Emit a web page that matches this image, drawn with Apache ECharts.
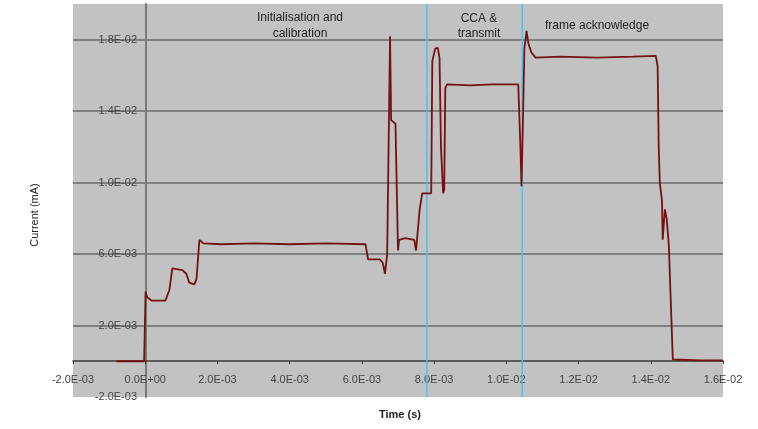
<!DOCTYPE html>
<html>
<head>
<meta charset="utf-8">
<script src="https://cdn.jsdelivr.net/npm/echarts@6/dist/echarts.min.js"></script>
<style>
  html, body { margin: 0; padding: 0; background: #fff; }
  #chart { width: 758px; height: 429px; }
</style>
</head>
<body>
<div id="chart"></div>
<script>
// time (s) and current readings
const timeS = [
  -0.8e-3, -0.03e-3, 0.01e-3, 0.05e-3, 0.17e-3, 0.56e-3, 0.67e-3, 0.75e-3, 1.03e-3, 1.14e-3,
  1.22e-3, 1.36e-3, 1.42e-3, 1.5e-3, 1.61e-3, 2.1e-3, 3.0e-3, 4.0e-3, 5.0e-3, 6.1e-3,
  6.17e-3, 6.5e-3, 6.58e-3, 6.64e-3, 6.7e-3, 6.78e-3, 6.81e-3, 6.93e-3, 7.0e-3, 7.03e-3,
  7.2e-3, 7.45e-3, 7.5e-3, 7.6e-3, 7.67e-3, 7.92e-3, 7.95e-3, 8.03e-3, 8.1e-3, 8.15e-3,
  8.19e-3, 8.25e-3, 8.28e-3, 8.31e-3, 8.36e-3, 9.0e-3, 9.6e-3, 10.33e-3, 10.39e-3, 10.42e-3,
  10.45e-3, 10.5e-3, 10.56e-3, 10.61e-3, 10.69e-3, 10.81e-3, 11.5e-3, 12.5e-3, 13.5e-3, 14.14e-3,
  14.19e-3, 14.22e-3, 14.25e-3, 14.31e-3, 14.33e-3, 14.39e-3, 14.44e-3, 14.5e-3, 14.56e-3, 14.61e-3,
  15.4e-3, 16.0e-3
];
const currentA = [
  0, 0, 3.9e-3, 3.6e-3, 3.4e-3, 3.4e-3, 4.0e-3, 5.2e-3, 5.1e-3, 4.9e-3,
  4.4e-3, 4.3e-3, 4.6e-3, 6.8e-3, 6.6e-3, 6.55e-3, 6.6e-3, 6.55e-3, 6.6e-3, 6.55e-3,
  5.7e-3, 5.7e-3, 5.5e-3, 4.9e-3, 6.0e-3, 18.2e-3, 13.5e-3, 13.3e-3, 6.2e-3, 6.8e-3,
  6.9e-3, 6.8e-3, 6.2e-3, 8.5e-3, 9.4e-3, 9.4e-3, 16.8e-3, 17.5e-3, 17.55e-3, 17.0e-3,
  12.0e-3, 9.4e-3, 9.6e-3, 15.3e-3, 15.5e-3, 15.45e-3, 15.5e-3, 15.5e-3, 12.0e-3, 9.8e-3,
  12.5e-3, 17.5e-3, 18.5e-3, 17.8e-3, 17.3e-3, 17.0e-3, 17.05e-3, 17.0e-3, 17.05e-3, 17.1e-3,
  16.5e-3, 12.0e-3, 10.0e-3, 9.0e-3, 6.8e-3, 8.5e-3, 8.0e-3, 6.5e-3, 3.0e-3, 0.1e-3,
  0.05e-3, 0.05e-3
];
// phase boundaries (s) and the phase captions
const phaseMarks = [7.8e-3, 10.44e-3];
const phaseNames = ['Initialisation and\ncalibration', 'CCA &\ntransmit', 'frame acknowledge'];

const X_MIN = -0.002, X_MAX = 0.016, Y_MIN = -0.002, Y_MAX = 0.02;

function sci(v) {
  if (v === 0) return '0.0E+00';
  let e = Math.floor(Math.log10(Math.abs(v)) + 1e-9);
  let m = v / Math.pow(10, e);
  return m.toFixed(1) + 'E' + (e < 0 ? '-' : '+') + String(Math.abs(e)).padStart(2, '0');
}

const chart = echarts.init(document.getElementById('chart'));
const font = 'Liberation Sans, Arial, sans-serif';

const phaseSeries = phaseMarks.map(t => ({
  type: 'line',
  data: [[t, Y_MIN], [t, Y_MAX]],
  showSymbol: false,
  silent: true,
  lineStyle: { color: '#55bfe0', width: 1.5 },
  z: 2
}));

chart.setOption({
  animation: false,
  grid: {
    left: 73, right: 35, top: 4, bottom: 32,
    show: true, backgroundColor: '#c2c2c2', borderWidth: 0
  },
  xAxis: {
    type: 'value',
    min: X_MIN, max: X_MAX, interval: 0.002,
    offset: -36,
    axisLine: { onZero: false, lineStyle: { color: '#3a3a3a', width: 1.5 } },
    axisTick: { show: true, length: 3, lineStyle: { color: '#3a3a3a' } },
    axisLabel: { formatter: sci, color: '#444', fontSize: 11, fontFamily: font, margin: 13 },
    splitLine: { show: false }
  },
  yAxis: {
    type: 'value',
    min: Y_MIN, max: Y_MAX, interval: 0.004,
    offset: -73,
    axisLine: { show: true, onZero: false, lineStyle: { color: '#7a7a7a', width: 2 } },
    axisTick: { show: false },
    axisLabel: { formatter: sci, color: '#444', fontSize: 11, fontFamily: font, margin: 9, showMaxLabel: false },
    splitLine: { showMinLine: false, showMaxLine: false, lineStyle: { color: '#6a6a6a', width: 1.5 } }
  },
  graphic: [
    { type: 'text', x: 300, y: 26, style: { text: phaseNames[0], align: 'center', verticalAlign: 'middle', fill: '#222', font: '12px ' + font, lineHeight: 16 } },
    { type: 'text', x: 479, y: 26, style: { text: phaseNames[1], align: 'center', verticalAlign: 'middle', fill: '#222', font: '12px ' + font, lineHeight: 15 } },
    { type: 'text', x: 545, y: 26, style: { text: phaseNames[2], verticalAlign: 'middle', fill: '#222', font: '12px ' + font } },
    { type: 'text', x: 35, y: 215, rotation: Math.PI / 2, style: { text: 'Current (mA)', fill: '#222', font: '11px ' + font, align: 'center', verticalAlign: 'middle' } },
    { type: 'text', x: 400, y: 415, style: { text: 'Time (s)', fill: '#222', font: 'bold 11px ' + font, align: 'center', verticalAlign: 'middle' } }
  ],
  series: [{
    type: 'line',
    data: timeS.map((t, i) => [t, currentA[i]]),
    showSymbol: false,
    lineStyle: { color: '#741212', width: 1.8 },
    z: 3
  }].concat(phaseSeries)
});
</script>
</body>
</html>
